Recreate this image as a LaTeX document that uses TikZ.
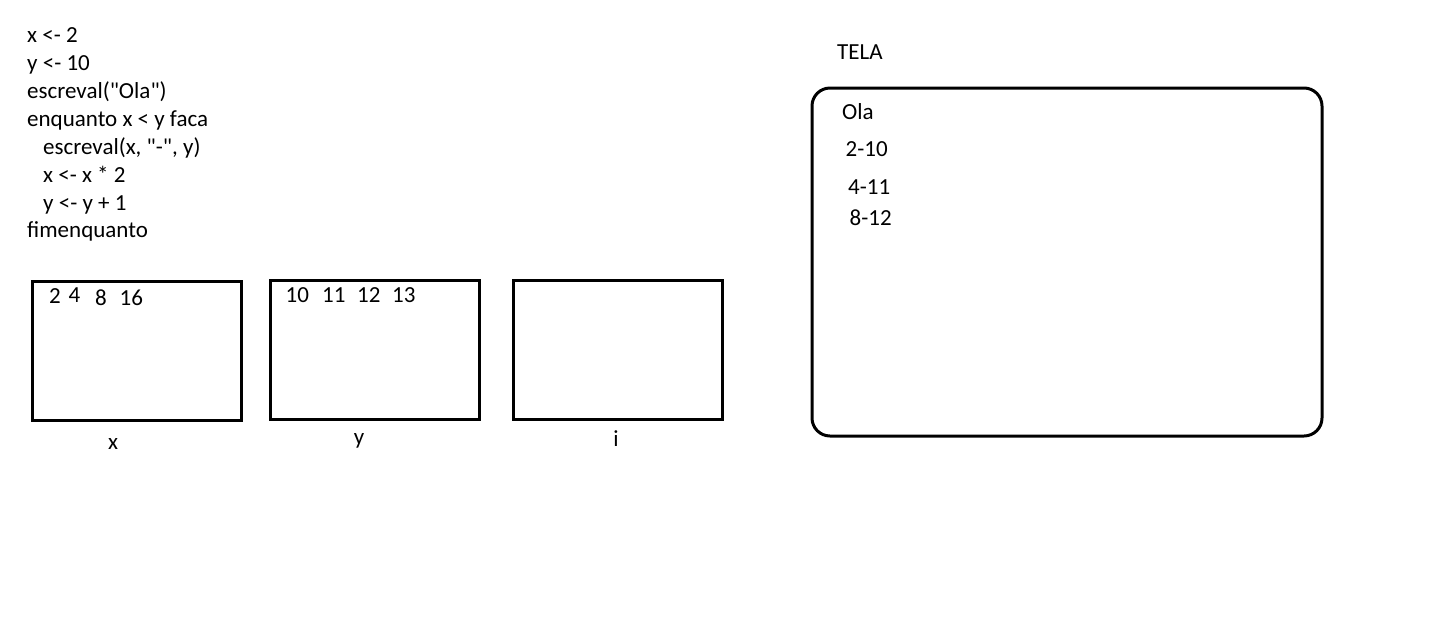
\documentclass[tikz,border=0pt]{standalone}
\usepackage{fontspec}
\setmainfont{Carlito}
\newcommand{\dq}{\textquotedbl}
\begin{document}
\begin{tikzpicture}[x=1pt,y=-1pt,
  txt/.style={anchor=base west,inner sep=0pt,font=\fontsize{23}{27}\selectfont},
  ctr/.style={anchor=base,inner sep=0pt,font=\fontsize{23}{27}\selectfont},
  varbox/.style={draw,line width=3pt}]
\useasboundingbox[fill=white] (0,0) rectangle (1438,630);
% code
\node[txt] (c1) at (27,42) {x <- 2};
\node[txt] (c2) at (27,70) {y <- 10};
\node[txt] (c3) at (27,98) {escreval(\dq Ola\dq)};
\node[txt] (c4) at (27,126) {enquanto x < y faca};
\node[txt] (c5) at (43,154) {escreval(x, \dq-\dq, y)};
\node[txt] (c6) at (43,182) {x <- x * 2};
\node[txt] (c7) at (43,210) {y <- y + 1};
\node[txt] (c8) at (27,237) {fimenquanto};
% variable boxes
\draw[varbox] (32,281) rectangle (241,420);
\draw[varbox] (270,280) rectangle (479,419);
\draw[varbox] (513,280) rectangle (722,419);
\node[ctr] (lx) at (113,449) {x};
\node[ctr] (ly) at (359,444) {y};
\node[ctr] (li) at (616,446) {i};
\node[txt] (x1) at (49,303) {2};
\node[txt] (x2) at (68.5,302) {4};
\node[txt] (x3) at (95,305) {8};
\node[txt] (x4) at (119.5,305) {16};
\node[txt] (y1) at (285.5,302) {10};
\node[txt] (y2) at (322,302) {11};
\node[txt] (y3) at (357,302) {12};
\node[txt] (y4) at (392,302) {13};
% screen
\node[txt] (tela) at (837,59) {TELA};
\draw[line width=3pt,rounded corners=18pt] (812,88) rectangle (1322,436);
\node[txt] (s1) at (842,119) {Ola};
\node[txt] (s2) at (845.5,156) {2-10};
\node[txt] (s3) at (848,194) {4-11};
\node[txt] (s4) at (849.5,225) {8-12};
\end{tikzpicture}
\end{document}
